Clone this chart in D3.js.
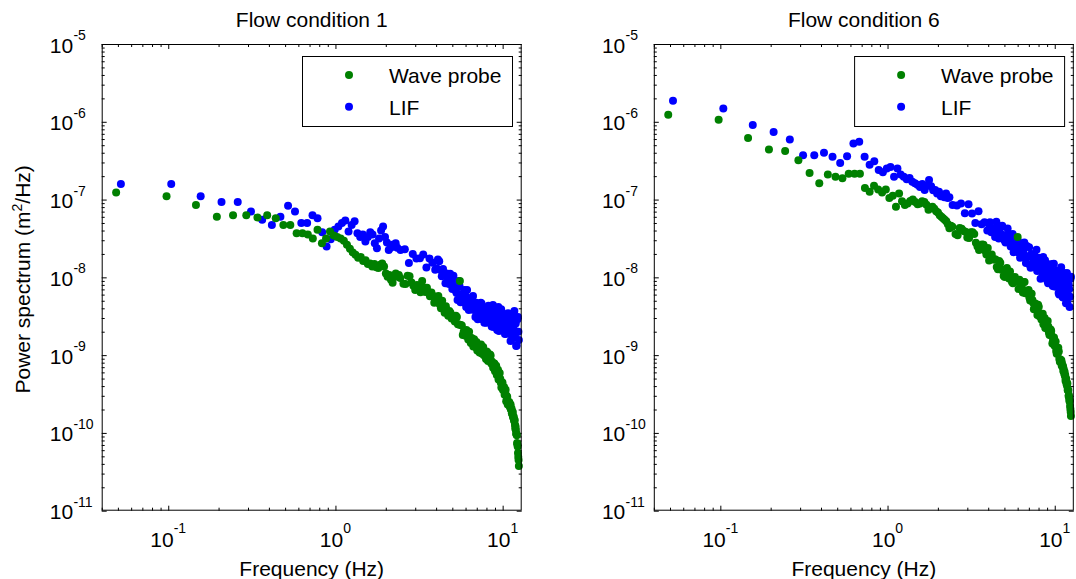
<!DOCTYPE html>
<html>
<head>
<meta charset="utf-8">
<script src="https://cdn.jsdelivr.net/npm/d3@7"></script>
<style>
  body { margin: 0; background: #fff; }
  svg { display: block; }
  text { font-family: "Liberation Sans", Arial, Helvetica, sans-serif; fill: #000; }
</style>
</head>
<body>
<svg id="chart" width="1076" height="579"></svg>
<script>
// ---------------- data ----------------
const titles = ["Flow condition 1", "Flow condition 6"];
const seriesNames = ["Wave probe", "LIF"];
const xLabel = "Frequency (Hz)";
const xTickExponents = [-1, 0, 1];
const yTickExponents = [-11, -10, -9, -8, -7, -6, -5];

// wave probe frequencies (Hz)
const waveFreq = [
  0.0488, 0.0977, 0.1465, 0.1953, 0.2441, 0.2930, 0.3418, 0.3906, 0.4395, 0.4883,
  0.5371, 0.5859, 0.6348, 0.6836, 0.7324, 0.7813, 0.8301, 0.8789, 0.9277, 0.9766,
  1.0254, 1.0742, 1.1230, 1.1719, 1.2207, 1.2695, 1.3184, 1.3672, 1.4160, 1.4648,
  1.5137, 1.5625, 1.6113, 1.6602, 1.7090, 1.7578, 1.8066, 1.8555, 1.9043, 1.9531,
  2.0020, 2.0508, 2.0996, 2.1484, 2.1973, 2.2461, 2.2949, 2.3438, 2.3926, 2.4414,
  2.55, 2.70, 2.85, 3.00, 3.15, 3.30, 3.45, 3.60, 3.75, 3.90,
  4.05, 4.20, 4.35, 4.50, 4.65, 4.80, 4.95, 5.10, 5.25, 5.40,
  5.55, 5.70, 5.85, 6.00, 6.15, 6.30, 6.45, 6.60, 6.75, 6.90,
  7.05, 7.20, 7.35, 7.50, 7.65, 7.80, 7.95, 8.10, 8.25, 8.40,
  8.55, 8.70, 8.85, 9.00, 9.15, 9.30, 9.45, 9.60, 9.75, 9.90,
  10.05, 10.20, 10.35, 10.50, 10.65, 10.80,
  10.90, 10.95, 11.00, 11.05, 11.10, 11.15, 11.20, 11.25, 11.30, 11.35,
  11.40, 11.45, 11.50, 11.55, 11.60, 11.65, 11.70, 11.75, 11.80, 11.85,
  11.90, 11.95, 12.00, 12.05, 12.10, 12.15, 12.20, 12.25, 12.30, 12.35,
  12.40, 12.45, 12.50,
  2.625, 2.775, 2.925, 3.075, 3.225, 3.375, 3.525, 3.675, 3.825, 3.975,
  4.125, 4.275, 4.425, 4.575, 4.725, 4.875, 5.025, 5.175, 5.325, 5.475,
  5.625, 5.775, 5.925, 6.075, 6.225, 6.375, 6.525, 6.675, 6.825, 6.975,
  7.125, 7.275, 7.425, 7.575, 7.725, 7.875, 8.025, 8.175, 8.325, 8.475,
  8.625, 8.775, 8.925, 9.075, 9.225, 9.375, 9.525, 9.675, 9.825, 9.975,
  10.125, 10.275, 10.425, 10.575, 10.725
];

// LIF frequencies (Hz)
const lifFreq = [
  0.0521, 0.1042, 0.1563, 0.2083, 0.2604, 0.3125, 0.3646, 0.4167, 0.4688, 0.5208,
  0.5729, 0.6250, 0.6771, 0.7292, 0.7813, 0.8333, 0.8854, 0.9375, 0.9896, 1.0417,
  1.0938, 1.1458, 1.1979, 1.2500, 1.3021, 1.3542, 1.4063, 1.4583, 1.5104, 1.5625,
  1.6146, 1.6667, 1.7188, 1.7708, 1.8229, 1.8750, 1.9271, 1.9792, 2.0313, 2.0833,
  2.1354, 2.1875, 2.2396, 2.2917, 2.3438,
  2.45, 2.60, 2.75, 2.90, 3.05, 3.20, 3.35, 3.50, 3.65, 3.80,
  3.95, 4.10, 4.25, 4.40, 4.55, 4.70, 4.85, 5.00, 5.15, 5.30,
  5.45, 5.60, 5.75, 5.90, 6.05, 6.20, 6.35, 6.50, 6.65, 6.80,
  6.95, 7.10, 7.25, 7.40, 7.55, 7.70, 7.85, 8.00, 8.15, 8.30,
  8.45, 8.60, 8.75, 8.90, 9.05, 9.20, 9.35, 9.50, 9.65, 9.80,
  9.95, 10.10, 10.25, 10.40, 10.55, 10.70, 10.85, 11.00, 11.15, 11.30,
  11.45, 11.60, 11.75, 11.90, 12.05, 12.20, 12.35, 12.50,
  4.025, 4.175, 4.325, 4.475, 4.625, 4.775, 4.925, 5.075, 5.225, 5.375,
  5.525, 5.675, 5.825, 5.975, 6.125, 6.275, 6.425, 6.575, 6.725, 6.875,
  7.025, 7.175, 7.325, 7.475, 7.625, 7.775, 7.925, 8.075, 8.225, 8.375,
  8.525, 8.675, 8.825, 8.975, 9.125, 9.275, 9.425, 9.575, 9.725, 9.875,
  10.025, 10.175, 10.325, 10.475, 10.625, 10.775, 10.925, 11.075, 11.225, 11.375,
  11.525, 11.675, 11.825, 11.975, 12.125, 12.275, 12.425
];

// Flow condition 1 — wave probe power spectrum (m^2/Hz)
const waveProbe1 = [
  1.23e-7, 1.10e-7, 8.5e-8, 6.0e-8, 6.3e-8, 6.3e-8, 5.9e-8, 6.3e-8, 5.75e-8, 4.7e-8,
  4.7e-8, 3.7e-8, 3.7e-8, 3.55e-8, 3.16e-8, 4.1e-8, 2.75e-8, 3.16e-8, 3.9e-8, 3.45e-8,
  3.3e-8, 3.16e-8, 2.95e-8, 2.63e-8, 2.34e-8, 2.09e-8, 1.95e-8, 1.78e-8, 1.82e-8, 1.62e-8,
  1.66e-8, 1.48e-8, 1.51e-8, 1.38e-8, 1.48e-8, 1.35e-8, 1.32e-8, 1.45e-8, 1.51e-8, 1.38e-8,
  1.12e-8, 1.02e-8, 1.07e-8, 9.3e-9, 8.5e-9, 1.05e-8, 1.12e-8, 1.02e-8, 1.07e-8, 9.8e-9,
  8.3e-9, 1.05e-8, 8.6e-9, 6.9e-9, 7.7e-9, 9.0e-9, 6.5e-9, 6.5e-9, 6.4e-9, 4.7e-9,
  5.3e-9, 4.5e-9, 5.0e-9, 3.5e-9, 3.6e-9, 3.7e-9, 2.95e-9, 3.0e-9, 3.2e-9, 2.5e-9,
  9.0e-9, 2.4e-9, 2.0e-9, 1.77e-9, 1.9e-9, 2.0e-9, 1.43e-9, 1.5e-9, 1.6e-9, 1.27e-9,
  1.15e-9, 1.3e-9, 1.22e-9, 1.05e-9, 1.27e-9, 1.02e-9, 8.9e-10, 1.08e-9, 9.4e-10, 1.02e-9,
  7.8e-10, 7.7e-10, 7.8e-10, 6.2e-10, 7.3e-10, 6.0e-10, 4.85e-10, 5.9e-10, 4.4e-10, 4.4e-10,
  3.55e-10, 3.9e-10, 3.25e-10, 2.55e-10, 2.9e-10, 2.4e-10,
  2.34e-10, 2.5e-10, 2.27e-10, 2.16e-10, 2.29e-10, 2.32e-10, 2.0e-10, 2.03e-10, 2.06e-10, 1.78e-10,
  1.88e-10, 1.75e-10, 1.86e-10, 1.59e-10, 1.58e-10, 1.61e-10, 1.43e-10, 1.44e-10, 1.47e-10, 1.27e-10,
  1.14e-10, 1.21e-10, 1.09e-10, 9.8e-11, 9.6e-11, 9.3e-11, 7.4e-11, 7.15e-11, 6.7e-11, 5.5e-11,
  4.9e-11, 4.5e-11, 3.75e-11,
  8.2e-9, 1.03e-8, 7.8e-9, 7.95e-9, 6.45e-9, 7.4e-9, 7.35e-9, 5.7e-9, 5.8e-9, 4.95e-9,
  5.75e-9, 4.0e-9, 4.15e-9, 4.25e-9, 3.2e-9, 3.5e-9, 3.05e-9, 2.7e-9, 3.1e-9, 2.48e-9,
  2.44e-9, 1.81e-9, 1.9e-9, 2.1e-9, 1.59e-9, 1.68e-9, 1.66e-9, 1.29e-9, 1.31e-9, 1.47e-9,
  1.25e-9, 1.08e-9, 1.37e-9, 1.2e-9, 1.0e-9, 1.05e-9, 1.11e-9, 8.4e-10, 8.8e-10, 9.9e-10,
  8.3e-10, 6.9e-10, 7.8e-10, 6.6e-10, 5.55e-10, 6.5e-10, 5.0e-10, 4.98e-10, 3.83e-10, 4.45e-10,
  3.7e-10, 3.1e-10, 3.6e-10, 3.0e-10, 2.32e-10
];

// Flow condition 1 — LIF power spectrum (m^2/Hz)
const lif1 = [
  1.58e-7, 1.58e-7, 1.10e-7, 9.3e-8, 9.3e-8, 7.0e-8, 5.5e-8, 4.7e-8, 6.0e-8, 8.3e-8,
  7.0e-8, 5.0e-8, 5.0e-8, 6.3e-8, 5.75e-8, 3.8e-8, 2.5e-8, 3.1e-8, 4.1e-8, 4.5e-8,
  5.0e-8, 5.4e-8, 3.9e-8, 4.7e-8, 5.25e-8, 3.7e-8, 3.3e-8, 3.55e-8, 2.9e-8, 3.3e-8,
  3.8e-8, 3.55e-8, 2.75e-8, 2.37e-8, 3.16e-8, 4.0e-8, 4.5e-8, 3.3e-8, 2.8e-8, 2.24e-8,
  2.4e-8, 2.63e-8, 2.5e-8, 2.75e-8, 2.4e-8,
  2.25e-8, 2.3e-8, 1.53e-8, 2.0e-8, 1.75e-8, 1.76e-8, 1.97e-8, 1.34e-8, 1.75e-8, 1.54e-8,
  1.25e-8, 1.69e-8, 1.24e-8, 1.28e-8, 8.4e-9, 9.8e-9, 1.11e-8, 7.1e-9, 8.2e-9, 6.3e-9,
  9.0e-9, 4.8e-9, 5.75e-9, 6.9e-9, 4.15e-9, 5.4e-9, 4.4e-9, 3.9e-9, 5.75e-9, 4.15e-9,
  4.7e-9, 2.9e-9, 3.5e-9, 4.7e-9, 2.9e-9, 3.6e-9, 3.9e-9, 2.6e-9, 2.9e-9, 4.0e-9,
  3.1e-9, 2.33e-9, 4.4e-9, 3.35e-9, 2.43e-9, 2.9e-9, 3.6e-9, 2.04e-9, 2.55e-9, 3.9e-9,
  2.85e-9, 2.14e-9, 3.2e-9, 2.48e-9, 1.88e-9, 3.35e-9, 2.18e-9, 2.6e-9, 1.52e-9, 3.15e-9,
  2.37e-9, 1.73e-9, 3.7e-9, 2.7e-9, 1.31e-9, 2.0e-9, 3.1e-9, 1.56e-9,
  1.31e-8, 1.61e-8, 1.03e-8, 1.06e-8, 1.12e-8, 8.2e-9, 9.1e-9, 1.05e-8, 6.8e-9, 5.1e-9,
  7.7e-9, 6.1e-9, 4.8e-9, 5.9e-9, 6.9e-9, 3.8e-9, 4.5e-9, 5.5e-9, 3.8e-9, 3.1e-9,
  4.5e-9, 4.0e-9, 3.0e-9, 4.6e-9, 3.2e-9, 2.6e-9, 4.0e-9, 3.3e-9, 4.3e-9, 2.8e-9,
  2.9e-9, 3.4e-9, 2.3e-9, 3.85e-9, 2.85e-9, 2.1e-9, 4.15e-9, 2.5e-9, 3.0e-9, 2.25e-9,
  3.4e-9, 2.7e-9, 1.87e-9, 3.0e-9, 2.3e-9, 3.45e-9, 1.93e-9, 2.33e-9, 3.04e-9, 1.62e-9,
  3.4e-9, 2.1e-9, 1.79e-9, 2.55e-9, 1.33e-9, 2.9e-9, 2.0e-9
];

// Flow condition 6 — wave probe power spectrum (m^2/Hz)
const waveProbe6 = [
  1.23e-6, 1.06e-6, 6.2e-7, 4.4e-7, 4.2e-7, 3.2e-7, 2.2e-7, 1.62e-7, 2.1e-7, 1.97e-7,
  1.88e-7, 2.14e-7, 2.14e-7, 2.14e-7, 1.41e-7, 1.26e-7, 1.51e-7, 1.35e-7, 1.23e-7, 1.35e-7,
  1.05e-7, 1.12e-7, 8.1e-8, 1.2e-7, 9.5e-8, 8.5e-8, 8.9e-8, 9.6e-8, 1.0e-7, 9.3e-8,
  8.7e-8, 8.9e-8, 9.5e-8, 9.3e-8, 8.6e-8, 7.4e-8, 7.8e-8, 8.1e-8, 7.6e-8, 7.1e-8,
  6.8e-8, 6.3e-8, 6.0e-8, 5.75e-8, 5.5e-8, 5.25e-8, 4.8e-8, 4.27e-8, 4.6e-8, 4.47e-8,
  3.6e-8, 4.3e-8, 3.95e-8, 3.25e-8, 3.8e-8, 3.6e-8, 2.5e-8, 2.52e-8, 2.63e-8, 1.97e-8,
  1.65e-8, 1.96e-8, 1.71e-8, 1.36e-8, 1.62e-8, 1.25e-8, 1.04e-8, 1.24e-8, 1.07e-8, 1.19e-8,
  8.7e-9, 8.9e-9, 9.4e-9, 3.3e-8, 9.3e-9, 7.6e-9, 6.4e-9, 8.7e-9, 6.4e-9, 6.7e-9,
  5.5e-9, 6.2e-9, 5.1e-9, 3.9e-9, 4.6e-9, 3.8e-9, 4.45e-9, 3.16e-9, 3.2e-9, 3.3e-9,
  2.5e-9, 3.0e-9, 2.44e-9, 2.2e-9, 2.33e-9, 1.81e-9, 2.14e-9, 1.76e-9, 1.49e-9, 1.68e-9,
  1.33e-9, 1.13e-9, 1.23e-9, 1.24e-9, 8.9e-10, 8.8e-10,
  8.4e-10, 8.6e-10, 7.35e-10, 7.85e-10, 7.2e-10, 7.1e-10, 7.25e-10, 6.25e-10, 6.7e-10, 6.2e-10,
  5.75e-10, 6.1e-10, 5.4e-10, 5.55e-10, 4.7e-10, 4.9e-10, 5.0e-10, 4.3e-10, 4.45e-10, 4.0e-10,
  4.32e-10, 3.55e-10, 3.53e-10, 3.56e-10, 2.98e-10, 3.05e-10, 2.77e-10, 2.55e-10, 2.6e-10, 2.22e-10,
  2.03e-10, 1.86e-10, 1.65e-10,
  3.47e-8, 4.2e-8, 3.85e-8, 3.2e-8, 3.8e-8, 2.78e-8, 2.25e-8, 2.65e-8, 2.22e-8, 2.38e-8,
  1.72e-8, 1.69e-8, 1.7e-8, 1.27e-8, 1.54e-8, 1.26e-8, 1.01e-8, 1.32e-8, 9.7e-9, 1.02e-8,
  8.4e-9, 1.01e-8, 8.8e-9, 7.1e-9, 8.55e-9, 7.2e-9, 8.7e-9, 6.25e-9, 6.55e-9, 6.9e-9,
  5.05e-9, 6.15e-9, 4.7e-9, 4.1e-9, 4.4e-9, 3.28e-9, 4.2e-9, 3.43e-9, 2.87e-9, 3.4e-9,
  2.69e-9, 2.24e-9, 2.62e-9, 2.74e-9, 1.95e-9, 2.01e-9, 2.05e-9, 1.41e-9, 1.6e-9, 1.32e-9,
  1.5e-9, 1.04e-9, 1.07e-9, 1.11e-9, 8.2e-10
];

// Flow condition 6 — LIF power spectrum (m^2/Hz)
const lif6 = [
  1.86e-6, 1.48e-6, 9.1e-7, 7.4e-7, 5.9e-7, 3.7e-7, 3.7e-7, 4.0e-7, 3.55e-7, 2.95e-7,
  3.6e-7, 5.25e-7, 5.55e-7, 3.55e-7, 2.8e-7, 3.1e-7, 2.4e-7, 2.24e-7, 2.5e-7, 2.63e-7,
  1.97e-7, 2.5e-7, 2.1e-7, 1.97e-7, 1.82e-7, 1.9e-7, 1.7e-7, 1.62e-7, 1.55e-7, 1.45e-7,
  1.58e-7, 1.33e-7, 1.51e-7, 1.78e-7, 1.48e-7, 1.32e-7, 1.33e-7, 1.2e-7, 1.26e-7, 1.1e-7,
  1.15e-7, 1.07e-7, 1.2e-7, 1.05e-7, 1.07e-7,
  8.5e-8, 8.4e-8, 8.9e-8, 6.65e-8, 8.7e-8, 6.6e-8, 5.0e-8, 7.1e-8, 4.8e-8, 5.1e-8,
  4.0e-8, 5.12e-8, 4.3e-8, 3.3e-8, 4.5e-8, 3.7e-8, 4.6e-8, 3.0e-8, 3.2e-8, 3.6e-8,
  2.5e-8, 3.62e-8, 2.6e-8, 2.3e-8, 2.77e-8, 1.78e-8, 2.75e-8, 2.1e-8, 1.78e-8, 2.53e-8,
  1.83e-8, 1.44e-8, 2.0e-8, 1.45e-8, 1.94e-8, 1.67e-8, 1.21e-8, 1.58e-8, 1.28e-8, 1.77e-8,
  1.11e-8, 1.43e-8, 1.66e-8, 1.14e-8, 9.0e-9, 1.45e-8, 1.15e-8, 8.9e-9, 1.2e-8, 1.49e-8,
  7.6e-9, 9.4e-9, 1.22e-8, 8.0e-9, 6.3e-9, 1.0e-8, 8.45e-9, 1.13e-8, 5.6e-9, 1.14e-8,
  7.1e-9, 6.0e-9, 8.6e-9, 4.7e-9, 9.9e-9, 7.05e-9, 5.65e-9, 1.02e-8,
  4.9e-8, 3.8e-8, 4.0e-8, 5.2e-8, 3.16e-8, 4.4e-8, 3.5e-8, 2.8e-8, 4.25e-8, 2.85e-8,
  3.3e-8, 2.1e-8, 2.73e-8, 3.1e-8, 2.06e-8, 2.47e-8, 1.94e-8, 2.8e-8, 1.53e-8, 1.86e-8,
  2.43e-8, 1.33e-8, 1.96e-8, 1.57e-8, 1.36e-8, 2.26e-8, 1.52e-8, 1.78e-8, 9.6e-9, 1.23e-8,
  1.82e-8, 9.9e-9, 1.31e-8, 1.43e-8, 8.4e-9, 9.85e-9, 1.47e-8, 1.05e-8, 7.75e-9, 1.5e-8,
  1.12e-8, 7.65e-9, 9.35e-9, 1.16e-8, 6.0e-9, 7.3e-9, 1.35e-8, 8.5e-9, 5.5e-9, 1.03e-8,
  6.85e-9, 4.65e-9, 1.135e-8, 5.9e-9, 7.95e-9, 4.15e-9, 9.6e-9
];

// ---------------- layout & style ----------------
const colors = { wave: "#008000", lif: "#0000ff" };
const xDomain = [0.04, 13];
const yDomain = [1e-11, 1e-5];
const panelLefts = [101.7, 653.8];
const plotW = 420, plotTop = 44, plotBottom = 510.7;
const fontMain = 21, fontSup = 14;
const dotR = 4;

const svg = d3.select("#chart");
svg.append("rect").attr("width", 1076).attr("height", 579).attr("fill", "#fff");

function minorTicks(domain) {
  const out = [];
  for (let e = -12; e <= 2; e++) {
    for (let m = 2; m <= 9; m++) {
      const v = m * Math.pow(10, e);
      if (v >= domain[0] * 0.9999 && v <= domain[1] * 1.0001) out.push(v);
    }
  }
  return out;
}
function majorTicks(domain) {
  const out = [];
  for (let e = -12; e <= 2; e++) {
    const v = Math.pow(10, e);
    if (v >= domain[0] * 0.9999 && v <= domain[1] * 1.0001) out.push(v);
  }
  return out;
}

const panels = [
  { title: titles[0], wave: waveProbe1, lif: lif1, yTitle: true },
  { title: titles[1], wave: waveProbe6, lif: lif6, yTitle: false }
];

panels.forEach((p, i) => {
  const left = panelLefts[i];
  const right = left + plotW;
  const x = d3.scaleLog().domain(xDomain).range([left, right]);
  const y = d3.scaleLog().domain(yDomain).range([plotBottom, plotTop]);
  const g = svg.append("g");

  // ticks on all four sides, pointing inward
  const xMin = minorTicks(xDomain), xMaj = majorTicks(xDomain);
  const yMin = minorTicks(yDomain), yMaj = majorTicks(yDomain);
  const addAxis = (axisFn, scale, vals, size, transform) => {
    const a = g.append("g").attr("transform", transform)
      .call(axisFn(scale).tickValues(vals).tickSize(size).tickSizeOuter(0).tickFormat(""));
    a.select(".domain").remove();
    a.selectAll("line").attr("stroke", "#000").attr("stroke-width", 1);
  };
  addAxis(d3.axisBottom, x, xMin, -3, `translate(0,${plotBottom})`);
  addAxis(d3.axisBottom, x, xMaj, -5, `translate(0,${plotBottom})`);
  addAxis(d3.axisTop, x, xMin, -3, `translate(0,${plotTop})`);
  addAxis(d3.axisTop, x, xMaj, -5, `translate(0,${plotTop})`);
  addAxis(d3.axisLeft, y, yMin, -3, `translate(${left},0)`);
  addAxis(d3.axisLeft, y, yMaj, -5, `translate(${left},0)`);
  addAxis(d3.axisRight, y, yMin, -3, `translate(${right},0)`);
  addAxis(d3.axisRight, y, yMaj, -5, `translate(${right},0)`);

  // data points (LIF first, wave probe on top)
  g.append("g").selectAll("circle")
    .data(lifFreq.map((f, j) => [f, p.lif[j]]))
    .join("circle")
    .attr("cx", d => x(d[0])).attr("cy", d => y(d[1])).attr("r", dotR)
    .attr("fill", colors.lif);
  g.append("g").selectAll("circle")
    .data(waveFreq.map((f, j) => [f, p.wave[j]]))
    .join("circle")
    .attr("cx", d => x(d[0])).attr("cy", d => y(d[1])).attr("r", dotR)
    .attr("fill", colors.wave);

  // box
  g.append("rect")
    .attr("x", left + 0.5).attr("y", plotTop + 0.5)
    .attr("width", plotW - 1).attr("height", plotBottom - plotTop - 1)
    .attr("fill", "none").attr("stroke", "#000").attr("stroke-width", 1);

  // x tick labels
  xTickExponents.forEach(e => {
    const t = g.append("text")
      .attr("x", x(Math.pow(10, e))).attr("y", 547)
      .attr("text-anchor", "middle").style("font-size", fontMain + "px");
    t.append("tspan").text("10");
    t.append("tspan").attr("dy", -14).style("font-size", fontSup + "px").text(String(e));
  });

  // y tick labels
  yTickExponents.forEach(e => {
    const yy = y(Math.pow(10, e));
    g.append("text").attr("x", left - 28.5).attr("y", yy + 8.5)
      .attr("text-anchor", "end").style("font-size", fontMain + "px").text("10");
    g.append("text").attr("x", left - 28.3).attr("y", yy - 4)
      .attr("text-anchor", "start").style("font-size", fontSup + "px").text(String(e));
  });

  // title & x label
  g.append("text").attr("x", left + plotW / 2).attr("y", 26.5)
    .attr("text-anchor", "middle").style("font-size", fontMain + "px").text(p.title);
  g.append("text").attr("x", left + plotW / 2).attr("y", 576)
    .attr("text-anchor", "middle").style("font-size", fontMain + "px").text(xLabel);

  if (p.yTitle) {
    const t = g.append("text")
      .attr("transform", `translate(29.5,${(plotTop + plotBottom) / 2 + 2}) rotate(-90)`)
      .attr("text-anchor", "middle").style("font-size", fontMain + "px");
    t.append("tspan").text("Power spectrum (m");
    t.append("tspan").attr("dy", -8).style("font-size", fontSup + "px").text("2");
    t.append("tspan").attr("dy", 8).text("/Hz)");
  }

  // legend
  const lx = left + 200.3, ly = 56, lw = 210, lh = 70;
  const lg = g.append("g");
  lg.append("rect").attr("x", lx + 0.5).attr("y", ly + 0.5).attr("width", lw).attr("height", lh)
    .attr("fill", "#fff").attr("stroke", "#000").attr("stroke-width", 1);
  const rows = [{ name: seriesNames[0], c: colors.wave, cy: 75 }, { name: seriesNames[1], c: colors.lif, cy: 106.7 }];
  rows.forEach(r => {
    lg.append("circle").attr("cx", lx + 47).attr("cy", r.cy).attr("r", dotR).attr("fill", r.c);
    lg.append("text").attr("x", lx + 87).attr("y", r.cy + 8)
      .style("font-size", fontMain + "px").text(r.name);
  });
});
</script>
</body>
</html>
